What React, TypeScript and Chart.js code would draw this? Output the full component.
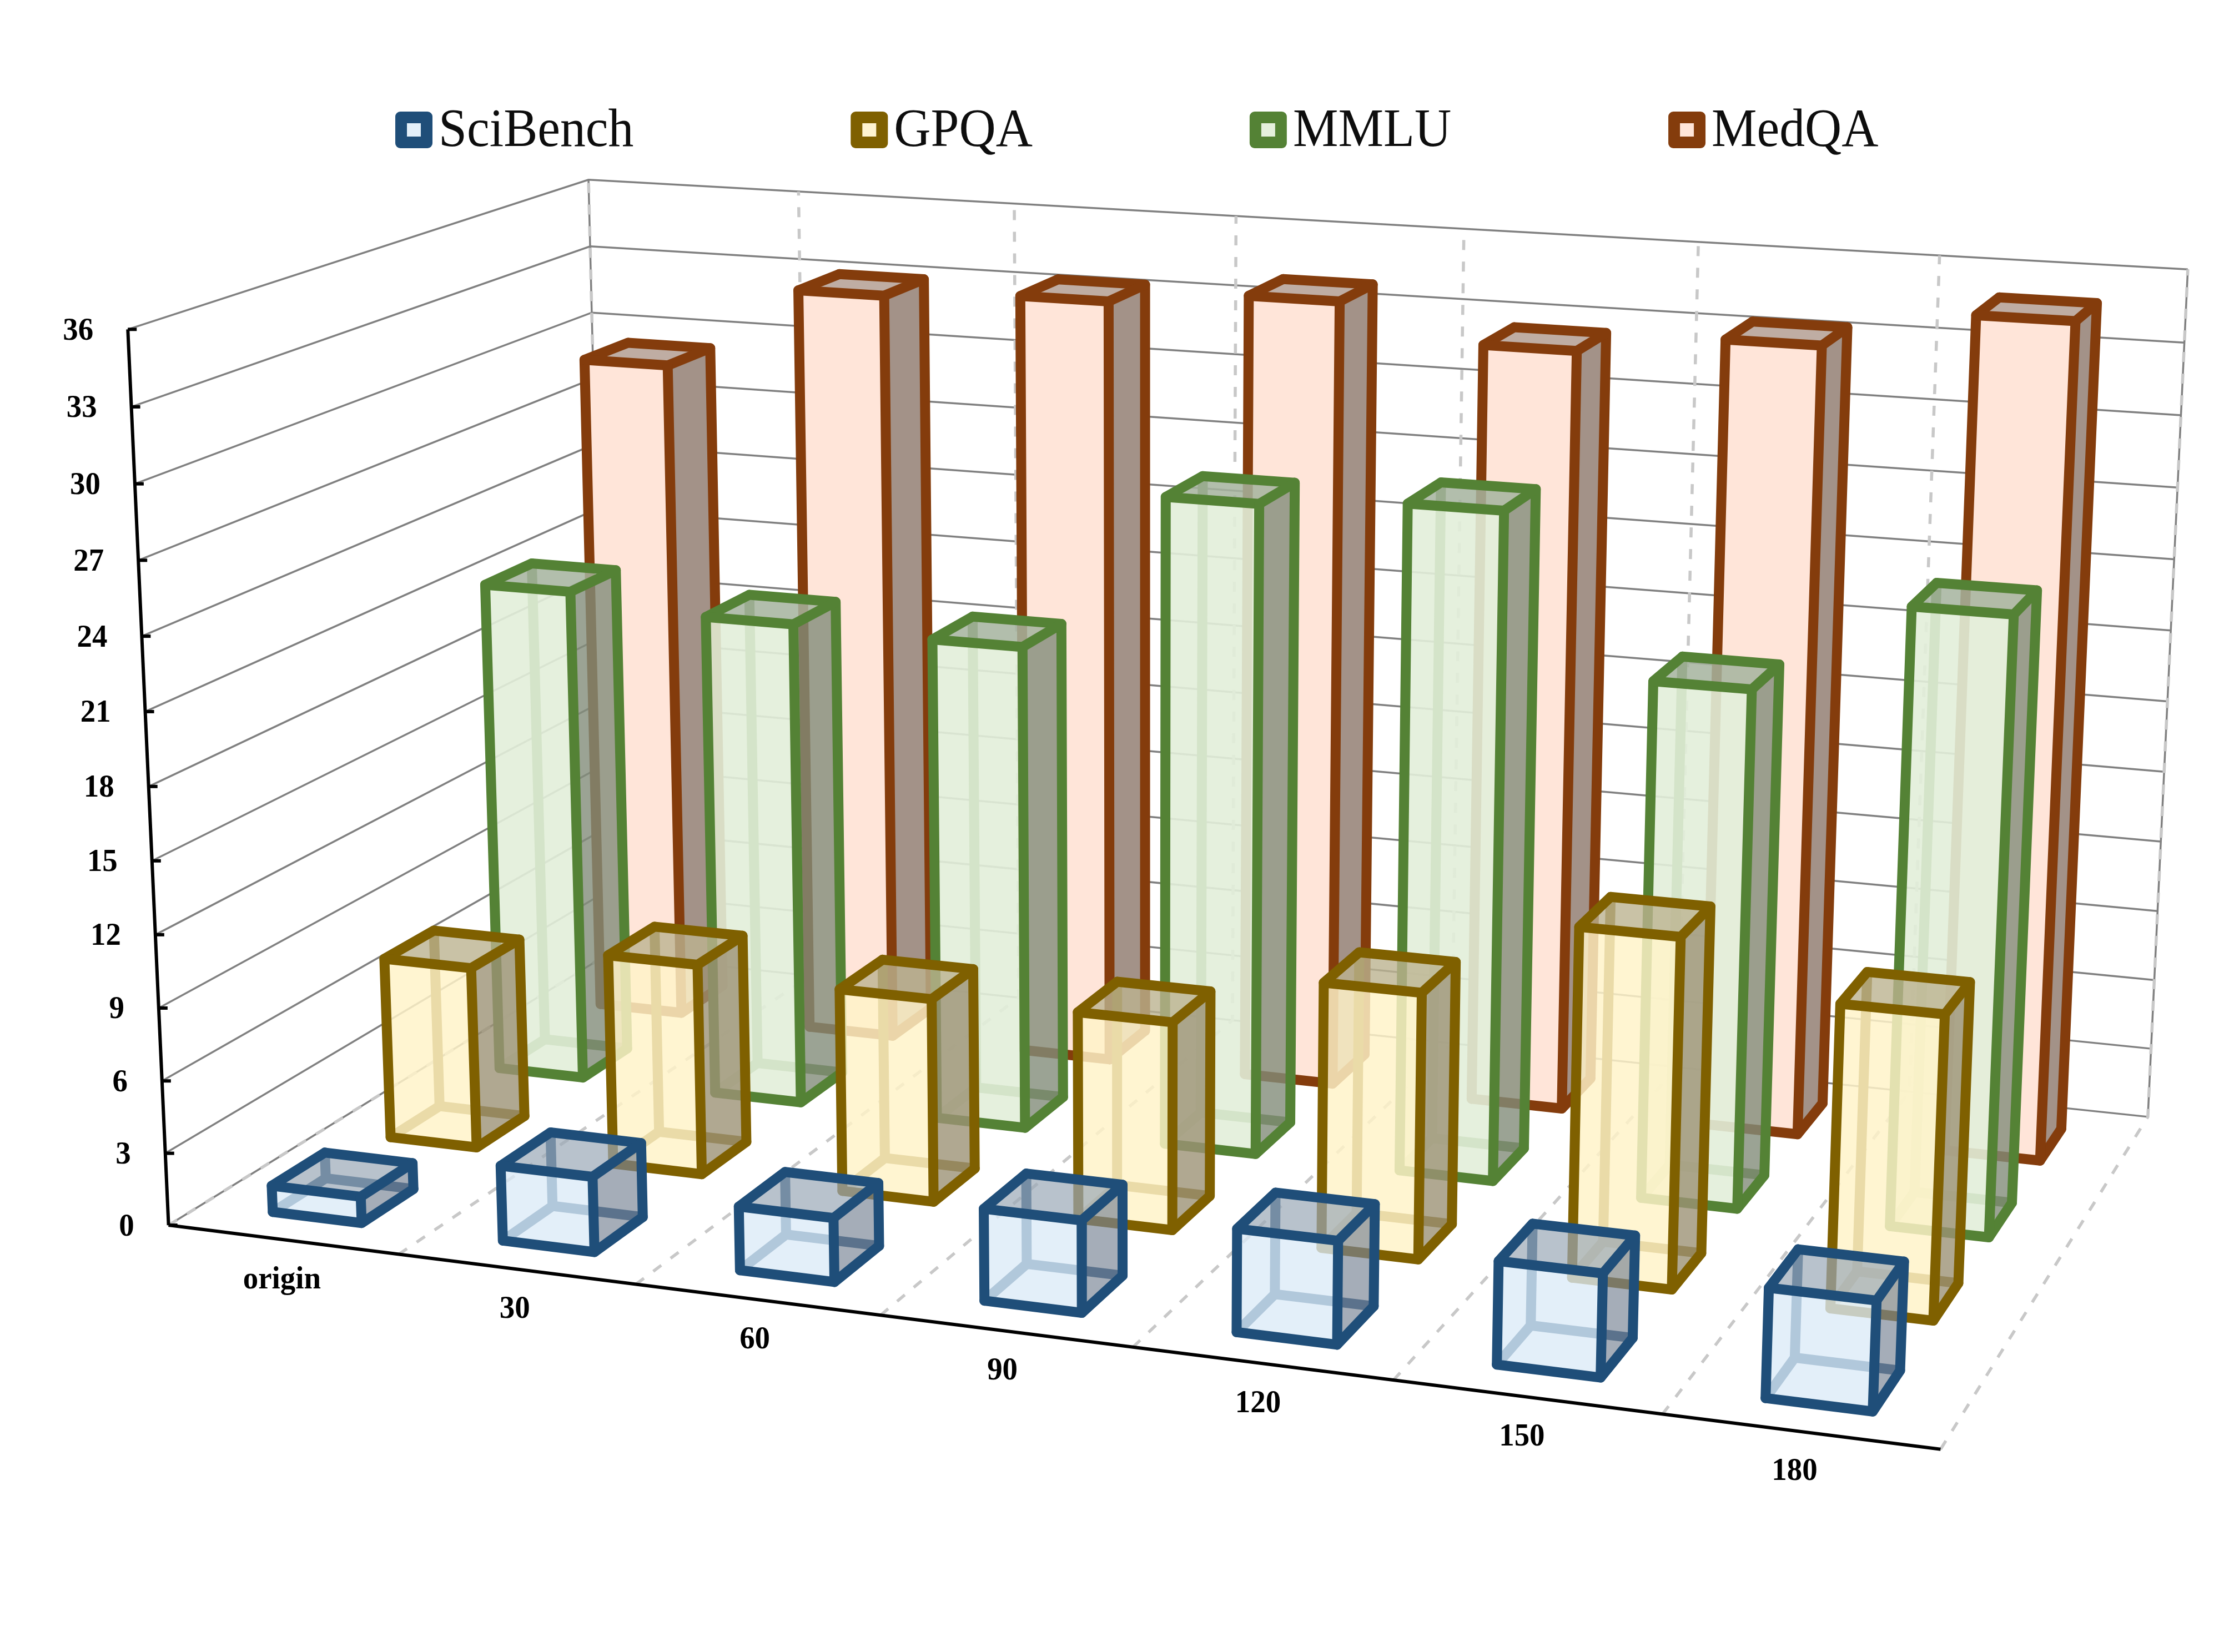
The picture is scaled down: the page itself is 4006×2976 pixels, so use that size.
import React, { useEffect, useRef } from 'react';
import { Chart, registerables } from 'chart.js';

Chart.register(...registerables);

const categories = ['origin', '30', '60', '90', '120', '150', '180'];
const seriesNames = ['SciBench', 'GPQA', 'MMLU', 'MedQA'];
const sciBench = [1.1, 3.1, 2.6, 3.7, 4.1, 4.05, 4.25];
const gpqa = [7.73, 8.9, 8.5, 8.6, 10.85, 14.1, 12.1];
const mmlu = [21.4, 20.8, 20.65, 27.35, 27.8, 21.4, 25.2];
const medqa = [29.3, 32.95, 33.3, 33.9, 32.45, 33.3, 34.9];
const yTicks = [0, 3, 6, 9, 12, 15, 18, 21, 24, 27, 30, 33, 36];
const yMax = 36;

const W = 4006;
const H = 2976;

// Camera calibration: box corners (u along categories, v along depth, h along value) -> canvas position
const calib: number[][] = [
  [0, 0, 0, 303, 2207],
  [1, 0, 0, 3491, 2611],
  [1, 1, 0, 3869, 2012],
  [0, 1, 0, 1094, 1719],
  [0, 0, 1, 230, 593],
  [0, 1, 1, 1060, 324],
  [1, 1, 1, 3941, 485],
  [0, 0, 15 / 36, 274, 1552],
  [1 / 7, 0, 0, 718, 2258],
  [6 / 7, 0, 0, 3000, 2548],
  [1 / 7, 1, 1, 1439, 345],
  [6 / 7, 1, 1, 3493, 460],
];

function solveCamera(): number[] {
  const n = 11;
  const A: number[][] = Array.from({ length: n }, () => new Array(n + 1).fill(0));
  const addEq = (r: number[], b: number) => {
    for (let i = 0; i < n; i++) {
      for (let j = 0; j < n; j++) A[i][j] += r[i] * r[j];
      A[i][n] += r[i] * b;
    }
  };
  for (const [u, v, h, px, py] of calib) {
    const X = px / W;
    const Y = py / H;
    addEq([u, v, h, 1, 0, 0, 0, 0, -X * u, -X * v, -X * h], X);
    addEq([0, 0, 0, 0, u, v, h, 1, -Y * u, -Y * v, -Y * h], Y);
  }
  for (let c = 0; c < n; c++) {
    let piv = c;
    for (let r = c + 1; r < n; r++) if (Math.abs(A[r][c]) > Math.abs(A[piv][c])) piv = r;
    [A[c], A[piv]] = [A[piv], A[c]];
    for (let r = 0; r < n; r++) {
      if (r === c) continue;
      const f = A[r][c] / A[c][c];
      for (let k = c; k <= n; k++) A[r][k] -= f * A[c][k];
    }
  }
  return A.map((row, i) => row[n] / row[i]);
}

const cam = solveCamera();

// cat: 0..7, depth: 0..1, value: 0..36
function project(cat: number, depth: number, value: number) {
  const u = cat / categories.length;
  const v = depth;
  const h = value / yMax;
  const w = cam[8] * u + cam[9] * v + cam[10] * h + 1;
  return {
    x: ((cam[0] * u + cam[1] * v + cam[2] * h + cam[3]) / w) * W,
    y: ((cam[4] * u + cam[5] * v + cam[6] * h + cam[7]) / w) * H,
  };
}

const seriesValues = [sciBench, gpqa, mmlu, medqa];
const borderColors = ['#1F4E79', '#7F6000', '#548235', '#843C0C'];
const frontColors = [
  'rgba(219,234,247,0.78)',
  'rgba(255,243,200,0.84)',
  'rgba(226,238,217,0.9)',
  'rgba(255,229,217,1)',
];
const sideColors = [
  'rgba(121,133,149,0.67)',
  'rgba(156,146,117,0.8)',
  'rgba(130,140,121,0.8)',
  'rgba(163,146,136,1)',
];
const topColors = [
  'rgba(154,168,183,0.7)',
  'rgba(187,179,144,0.8)',
  'rgba(165,179,158,0.86)',
  'rgba(191,173,163,1)',
];
const legendFill = ['#E3EFF9', '#FFF4D1', '#E5F0DD', '#FFE5D9'];

const halfWidth = 0.195;
const halfDepth = 0.055;
const edgeWidth = 18;

function buildDatasets() {
  const out: any[] = [];
  const add = (pts: { x: number; y: number }[], s: any) => {
    out.push({
      type: 'scatter',
      showLine: true,
      data: pts,
      pointRadius: 0,
      pointHoverRadius: 0,
      tension: 0,
      clip: false,
      borderColor: s.stroke || 'rgba(0,0,0,0)',
      borderWidth: s.width || 0,
      borderDash: s.dash || [],
      borderJoinStyle: s.join || 'round',
      borderCapStyle: s.cap || 'round',
      backgroundColor: s.fill || 'rgba(0,0,0,0)',
      fill: s.fill ? 'shape' : false,
    });
  };

  // wall gridlines
  for (const t of yTicks) {
    add([project(0, 0, t), project(0, 1, t), project(7, 1, t)], { stroke: '#808080', width: 3.5, join: 'miter', cap: 'butt' });
  }
  add([project(0, 1, 0), project(0, 1, yMax)], { stroke: '#808080', width: 3.5, cap: 'butt' });
  add([project(7, 1, 0), project(7, 1, yMax)], { stroke: '#808080', width: 3.5, cap: 'butt' });
  // category separators on the floor and the back wall
  for (let i = 0; i <= categories.length; i++) {
    add([project(i, 0, 0), project(i, 1, 0), project(i, 1, yMax)], {
      stroke: '#C8C8C8',
      width: 5.5,
      dash: [18, 21],
      join: 'miter',
      cap: 'butt',
    });
  }
  // axes
  add([project(0, 0, 0), project(7, 0, 0)], { stroke: '#000000', width: 6, cap: 'butt' });
  add([project(0, 0, 0), project(0, 0, yMax)], { stroke: '#000000', width: 6, cap: 'butt' });
  for (const t of yTicks) {
    const p = project(0, 0, t);
    add([p, { x: p.x + 16, y: p.y }], { stroke: '#000000', width: 6, cap: 'butt' });
  }

  // bars: back row first
  for (let s = seriesValues.length - 1; s >= 0; s--) {
    const vals = seriesValues[s];
    const vc = (s + 0.5) / seriesValues.length;
    const c = borderColors[s];
    vals.forEach((val, i) => {
      const x0 = i + 0.5 - halfWidth;
      const x1 = i + 0.5 + halfWidth;
      const v0 = vc - halfDepth;
      const v1 = vc + halfDepth;
      const fl0 = project(x0, v0, 0);
      const fr0 = project(x1, v0, 0);
      const bl0 = project(x0, v1, 0);
      const br0 = project(x1, v1, 0);
      const fl1 = project(x0, v0, val);
      const fr1 = project(x1, v0, val);
      const bl1 = project(x0, v1, val);
      const br1 = project(x1, v1, val);
      // hidden edges, seen through the faces
      add([fl0, bl0, br0], { stroke: c, width: edgeWidth });
      add([bl0, bl1], { stroke: c, width: edgeWidth });
      // faces
      add([fl0, fr0, fr1, fl1, fl0], { fill: frontColors[s] });
      add([fr0, br0, br1, fr1, fr0], { fill: sideColors[s] });
      add([fl1, fr1, br1, bl1, fl1], { fill: topColors[s] });
      // outlines
      add([fl0, fr0, br0, br1, bl1, fl1, fl0], { stroke: c, width: edgeWidth });
      add([fl1, fr1, br1], { stroke: c, width: edgeWidth });
      add([fr1, fr0], { stroke: c, width: edgeWidth });
    });
  }
  // Chart.js paints the first dataset last
  return out.reverse();
}

const textPlugin = {
  id: 'chart3dText',
  afterDatasetsDraw(chart: any) {
    const ctx = chart.ctx;
    const stretched = (text: string, x: number, y: number, sx: number) => {
      ctx.save();
      ctx.translate(x, y);
      ctx.scale(sx, 1);
      ctx.fillText(text, 0, 0);
      ctx.restore();
    };
    ctx.save();
    ctx.fillStyle = '#000000';
    ctx.font = 'bold 56px "Liberation Serif"';
    ctx.textBaseline = 'middle';
    ctx.textAlign = 'right';
    yTicks.forEach((t) => {
      const p = project(0, 0, t);
      stretched(String(t), p.x - 62, p.y + 4, 0.98);
    });
    ctx.textAlign = 'center';
    categories.forEach((label, i) => {
      const p = project(i + 0.5, 0, 0);
      stretched(label, p.x - 6 + (3 - i) * 1.5, p.y + 73, 0.98);
    });
    // legend
    const sx = 0.945;
    ctx.font = '97px "Liberation Serif"';
    ctx.textAlign = 'left';
    ctx.textBaseline = 'alphabetic';
    let x = 712;
    seriesNames.forEach((name, s) => {
      ctx.fillStyle = borderColors[s];
      ctx.beginPath();
      ctx.roundRect(x, 201, 67, 66, 9);
      ctx.fill();
      ctx.fillStyle = legendFill[s];
      ctx.fillRect(x + 21, 222, 25, 24);
      ctx.fillStyle = '#0D0D0D';
      stretched(name, x + 78, 263, sx);
      x += 78 + ctx.measureText(name).width * sx + 391;
    });
    ctx.restore();
  },
};

export default function App() {
  const ref = useRef<HTMLCanvasElement | null>(null);
  useEffect(() => {
    document.body.style.margin = '0';
    const chart = new Chart(ref.current as HTMLCanvasElement, {
      type: 'scatter',
      data: { datasets: buildDatasets() },
      options: {
        responsive: false,
        animation: false,
        events: [],
        layout: { padding: 0 },
        plugins: { legend: { display: false }, tooltip: { enabled: false } },
        scales: {
          x: { type: 'linear', min: 0, max: W, display: false },
          y: { type: 'linear', min: 0, max: H, reverse: true, display: false },
        },
      },
      plugins: [textPlugin],
    } as any);
    return () => chart.destroy();
  }, []);
  return <canvas ref={ref} width={W} height={H} style={{ display: 'block', background: '#ffffff' }} />;
}
